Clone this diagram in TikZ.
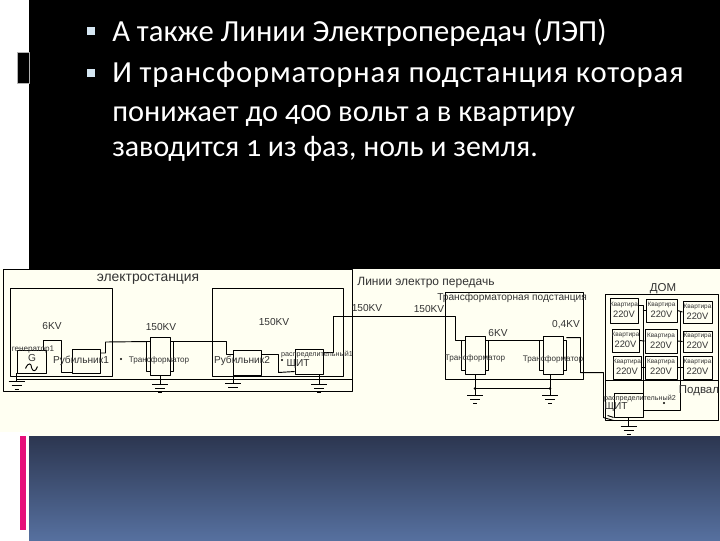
\documentclass[tikz,border=0pt]{standalone}
\usepackage{fontspec}
\setmainfont{Liberation Sans}
\newfontfamily\slidefont[Numbers=OldStyle]{Carlito}
\newfontfamily\slidewide[Numbers=OldStyle,LetterSpace=2.8]{Carlito}
\usetikzlibrary{calc,positioning}

\definecolor{cream}{HTML}{FFFFF2}
\definecolor{navytop}{HTML}{2C3650}
\definecolor{navybot}{HTML}{56709F}
\definecolor{barpink}{HTML}{E6107A}
\definecolor{bulletblue}{HTML}{D5E6F2}
\definecolor{inkgray}{HTML}{333333}

\begin{document}
\begin{tikzpicture}[
		x=0.75pt, y=-0.75pt,
		line join=round,
		box/.style n args={2}{draw=black, line width=0.7pt, inner sep=0pt, minimum width=#1*0.75pt, minimum height=#2*0.75pt},
		wire/.style={black, line width=0.7pt},
		slidetxt/.style={font=\slidefont\fontsize{23}{27}\selectfont, text=white, anchor=base west, inner sep=0pt},
		bullet/.style={fill=bulletblue, inner sep=0pt, minimum size=6pt},
		lab/.style={font=\fontsize{7.6}{9}\selectfont, text=inkgray, inner sep=0pt},
		biglab/.style={font=\fontsize{8.6}{10}\selectfont, text=inkgray, inner sep=0pt},
		tinylab/.style={font=\fontsize{5.4}{7}\selectfont, text=inkgray, inner sep=0pt},
		trlab/.style={font=\fontsize{6.1}{8}\selectfont, text=inkgray, inner sep=0pt},
		pics/gnd/.style={code={
			\draw[wire] (-8,0) -- (8,0);
			\draw[wire] (-5,4) -- (5,4);
			\draw[wire] (-2,8) -- (2,8);
		}}
	]
	
	\useasboundingbox (0,0) rectangle (720,540);
	
	% Slide background
	\fill[white] (0,0) rectangle (720,540);
	\fill[black] (29,0) rectangle (720,269);
	\fill[cream] (0,269) rectangle (29,432);
	\fill[cream] (29,269) rectangle (720,436);
	\shade[top color=navytop, bottom color=navybot] (29,436) rectangle (720,540);
	\fill[barpink] (20,436) rectangle (26,530);
	\draw[gray!60, fill=black, line width=0.4pt] (17,52) rectangle (29,83);
	
	% Slide text
	\node[bullet] (bulA) at (90.5,31) {};
	\node[bullet] (bulB) at (90.5,73) {};
	\node[slidetxt] (lineA) at (112,41) {А также Линии Электропередач (ЛЭП)};
	\node[slidetxt, font=\slidewide\fontsize{23}{27}\selectfont] (lineB) at (112,82) {И трансформаторная подстанция которая};
	\node[slidetxt, font=\slidefont\fontsize{22.8}{27}\selectfont] (lineC) at (112,121) {понижает до 400 вольт а в квартиру};
	\node[slidetxt, font=\slidefont\fontsize{22.4}{27}\selectfont] (lineD) at (112,156) {заводится 1 из фаз, ноль и земля.};
	
	% Frames
	\node[box={349}{122}] (plant) at (177.5,330) {};
	\node[box={102}{88}] (roomA) at (61,332) {};
	\node[box={131}{88}] (roomB) at (277.5,332) {};
	\node[box={138}{87}] (station) at (514,335.5) {};
	\node[box={113}{86}] (house) at (661.5,337) {};
	\node[box={113}{40}] (cellar) at (661.5,400) {};
	
	% Devices
	\node[box={29}{23}, fill=cream] (gen) at (31.5,361.5) {};
	\node[box={28}{24}, fill=cream] (rubA) at (86,361) {};
	\node[box={28}{25}, fill=cream] (rubB) at (247,362.5) {};
	\node[box={28}{25}, fill=cream] (shA) at (309,361.5) {};
	\node[box={29}{24}, fill=cream] (shB) at (628.5,405) {};
	
	% Transformers
	\foreach \n/\x/\y in {trA/160/356, trB/475/355, trC/553/355} {
		\node[box={20}{38}, fill=cream] (\n) at (\x,\y) {};
		\coordinate (\n-l) at ([shift={(-3,5)}]\n.north west);
		\coordinate (\n-r) at ([shift={(3,5)}]\n.north east);
		\coordinate (\n-ll) at ([shift={(-3,-4)}]\n.south west);
		\coordinate (\n-rr) at ([shift={(3,-4)}]\n.south east);
		\draw[wire] (\n-l -| \n.west) -- (\n-l) -- (\n-ll) -- (\n-ll -| \n.west);
		\draw[wire] (\n-r -| \n.east) -- (\n-r) -- (\n-rr) -- (\n-rr -| \n.east);
	}
	
	% Flats
	\foreach \n/\x/\y/\w/\h in {flA/624/310.5/28/25, flB/661.5/310.5/31/23, flC/697.5/312/29/22,
		flD/625.5/340.5/27/23, flE/661/341/32/24, flF/697.5/341.5/29/21,
		flG/627/367.5/28/23, flH/661/367.5/32/23, flI/697.5/367.5/29/23} {
		\node[box={\w}{\h}, fill=cream] (\n) at (\x,\y) {};
		\node[lab, font=\fontsize{7}{9}\selectfont] (\n-v) at ([shift={(0,4)}]\n.center) {220V};
		\node[tinylab, font=\fontsize{4.8}{6}\selectfont] (\n-t) at ([shift={(0,-5.5)}]\n.center) {Квартира};
	}
	
	% Wires, power plant
	\coordinate (genOut) at ([shift={(-3,0)}]gen.north east);
	\draw[wire] (genOut) |- ++(18,-9) |- ([shift={(0,11)}]rubA.west);
	\draw[wire] ([shift={(0,-8)}]rubA.east) -| ++(5,-11) -- (trA-l);
	\draw[wire] (trA-r) -| ([shift={(-6,-8)}]rubB.west) -- ([shift={(0,-8)}]rubB.west);
	\draw[wire] ([shift={(0,-8)}]rubB.east) -| ++(17,18) -- ([shift={(0,10)}]shA.west);
	\draw[wire] ([shift={(0,-9)}]shA.east) -| ++(10,-36) -- ++(122,0) |- (trB-l);
	
	% Wires, earth bus
	\coordinate (busL) at ([shift={(0,6)}]gen.south west);
	\coordinate (busR) at (plant.east |- busL);
	\draw[wire] (busL) -- (busR);
	\draw[wire] (gen.south west) -- ++(0,8);
	\draw[wire] (trA.south) -- ++(0,9);
	\draw[wire] ([shift={(-14,0)}]rubB.south) -- ++(0,8);
	\draw[wire] ([shift={(10,0)}]shA.south) -- ++(0,10);
	\pic at ([shift={(0,8)}]gen.south west) {gnd};
	\pic at ([shift={(0,9)}]trA.south) {gnd};
	\pic at ([shift={(-14,8)}]rubB.south) {gnd};
	\pic at ([shift={(10,10)}]shA.south) {gnd};
	
	% Wires, substation
	\draw[wire] (trB-r) -- (trC-l);
	\draw[wire] (trB.south) -- ++(0,21) coordinate (gndB);
	\draw[wire] ([shift={(-3,0)}]trC.south) -- ++(0,21) coordinate (gndC);
	\draw[wire] ([shift={(0,-7)}]gndB) -- ([shift={(0,-7)}]gndC);
	\fill ([shift={(0,-7)}]gndB) circle (1pt);
	\fill ([shift={(0,-7)}]gndC) circle (1pt);
	\pic at (gndB) {gnd};
	\pic at (gndC) {gnd};
	\draw[wire] ([shift={(0,-3)}]trC-r) -| ++(14,35) -| ++(23,45) -- ([shift={(0,3)}]shB.south west);
	\draw[wire] ([shift={(-6,-2)}]shB.south west) -- (shB.south west);
	
	% Wires, house
	\draw[wire] ([shift={(0,-5)}]flA.east) -| (shB.east);
	\draw[wire] (flA.east -| flB.west) ++(-3,0) -- (flB.west);
	\draw[wire] (flD.east) -- (flE.west);
	\draw[wire] (flG.east) -- (flH.west);
	\draw[wire] (flB.east) -- (flC.west);
	\draw[wire] (flE.east) -- (flF.west);
	\draw[wire] (flH.east) -- (flI.west);
	\coordinate (riserA) at ($(flB.east)!0.5!(flC.west)$);
	\draw[wire] (riserA) |- ([shift={(0,5)}]shB.east);
	\draw[wire] (shB.south) -- ++(0,9) coordinate (gndD);
	\pic at (gndD) {gnd};
	
	% Small marks
	\fill (121,359) circle (0.8pt);
	\fill (282,360) circle (0.8pt);
	\fill (664,403) circle (0.8pt);
	
	% Generator wave
	\draw[wire] ([shift={(-6,7)}]gen.center) .. controls ([shift={(-3,0)}]gen.center) and ([shift={(0,2)}]gen.center) .. ([shift={(0,6)}]gen.center)
		.. controls ([shift={(1,10)}]gen.center) and ([shift={(4,11)}]gen.center) .. ([shift={(6,5)}]gen.center);
	
	% Labels, power plant
	\node[biglab, font=\fontsize{10.4}{12}\selectfont] (plantT) at (148,279) {электростанция};
	\node[lab] (kvA) at (52,326) {6KV};
	\node[lab] (kvB) at (161,327) {150KV};
	\node[lab] (kvC) at (274,322) {150KV};
	\node[trlab] (genT) at (33,350) {генератор1};
	\node[lab] (genG) at (32,358) {G};
	\node[lab] (rubAT) at (81,361) {Рубильник1};
	\node[lab] (rubBT) at (242,361) {Рубильник2};
	\node[trlab] (trAT) at (159,360) {Трансформатор};
	\node[tinylab] (shAT) at (317,355) {распределительный1};
	\node[lab] (shAS) at (298,364) {ЩИТ};
	
	% Labels, line and substation
	\node[biglab, font=\fontsize{9}{11}\selectfont] (lineT) at (426,283) {Линии электро передачь};
	\node[lab] (kvD) at (367,308) {150KV};
	\node[lab] (kvE) at (429,309) {150KV};
	\node[lab] (stationT) at (512,298) {Трансформаторная подстанция};
	\node[lab] (kvF) at (498,333) {6KV};
	\node[lab] (kvG) at (566,325) {0,4KV};
	\node[trlab] (trBT) at (475,358) {Трансформатор};
	\node[trlab] (trCT) at (553,359) {Трансформатор};
	
	% Labels, house
	\node[biglab] (houseT) at (663,289) {ДОМ};
	\node[biglab] (cellarT) at (699,391) {Подвал};
	\node[tinylab] (shBT) at (640,399) {распределительный2};
	\node[lab] (shBS) at (616,407) {ЩИТ};
	
\end{tikzpicture}
\end{document}
